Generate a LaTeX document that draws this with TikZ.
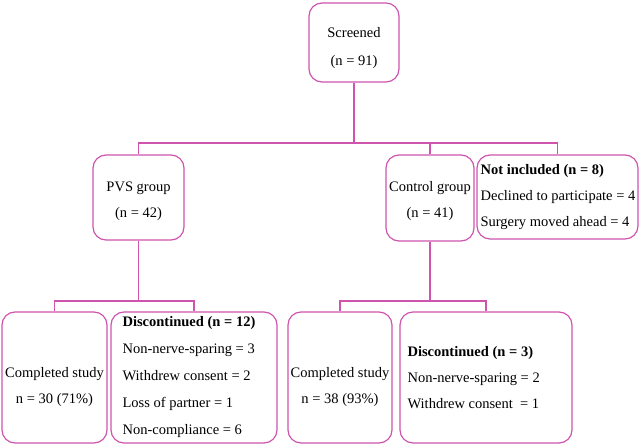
\documentclass[tikz,border=0pt]{standalone}
\usepackage{fontspec}
\setmainfont{Liberation Serif}
\usetikzlibrary{calc}
\definecolor{flowpink}{RGB}{206,84,174}
\tikzset{%
  stage/.style={draw=flowpink,line width=1.2pt,rounded corners=13pt,inner sep=0},
  txt/.style={inner sep=0,align=center,font=\fontsize{14.5}{26}\selectfont},
  note/.style={inner sep=0,align=left,anchor=west,font=\fontsize{14.5}{26}\selectfont},
  link/.style={draw=flowpink,line width=1.2pt}
}
\begin{document}
\begin{tikzpicture}[x=1pt,y=-1pt]
    \useasboundingbox (0,0) rectangle (641,446);
    % top
    \node[stage,minimum width=90pt,minimum height=79pt] (scr) at (354,42.5) {};
    \node[txt] (scrtxt) at ([yshift=-6pt]scr.center) {Screened\\[2pt](n = 91)};
    % middle row
    \node[stage,minimum width=91pt,minimum height=85pt] (pvs) at (138.5,197.5) {};
    \node[txt] (pvstxt) at ([yshift=-4pt]pvs.center) {PVS group\\(n = 42)};
    \node[stage,minimum width=88pt,minimum height=86pt] (ctl) at (430,198) {};
    \node[txt] (ctltxt) at ([yshift=-3pt]ctl.center) {Control group\\(n = 41)};
    \node[stage,minimum width=161pt,minimum height=84pt] (nin) at (557.5,197) {};
    \node[note] (nintxt) at ([xshift=4pt]nin.west) {\textbf{Not included (n = 8)}\\Declined to participate = 4\\Surgery moved ahead = 4};
    % bottom row
    \node[stage,minimum width=105pt,minimum height=131pt] (comp1) at (54.5,377.5) {};
    \node[txt] (comp1txt) at ([yshift=-10pt]comp1.center) {Completed study\\n = 30 (71\%)};
    \node[stage,minimum width=166pt,minimum height=131pt] (disc1) at (194,377.5) {};
    \node[note,font=\fontsize{14.5}{27}\selectfont] (disc1txt) at ([xshift=12pt]disc1.west) {\textbf{Discontinued (n = 12)}\\Non-nerve-sparing = 3\\Withdrew consent = 2\\Loss of partner = 1\\Non-compliance = 6};
    \node[stage,minimum width=104pt,minimum height=131pt] (comp2) at (340,377.5) {};
    \node[txt] (comp2txt) at ([yshift=-10pt]comp2.center) {Completed study\\n = 38 (93\%)};
    \node[stage,minimum width=172pt,minimum height=131pt] (disc3) at (486,377.5) {};
    \node[note] (disc3txt) at ([xshift=8pt]disc3.west) {\textbf{Discontinued (n = 3)}\\Non-nerve-sparing = 2\\Withdrew consent \ = 1};
    % connectors
    \coordinate (topbar) at (354,143);
    \coordinate (lowbar) at (0,301);
    \draw[link] (scr.south) -- (topbar);
    \draw[link] (pvs.north) -- (pvs.north |- topbar) -| (nin.north);
    \draw[link] (ctl.north) -- (ctl.north |- topbar);
    \draw[link] (pvs.south) -- (pvs.south |- lowbar);
    \draw[link] (comp1.north) -- (comp1.north |- lowbar) -| (disc1.north);
    \draw[link] (ctl.south) -- (ctl.south |- lowbar);
    \draw[link] (comp2.north) -- (comp2.north |- lowbar) -| (disc3.north);
\end{tikzpicture}
\end{document}
